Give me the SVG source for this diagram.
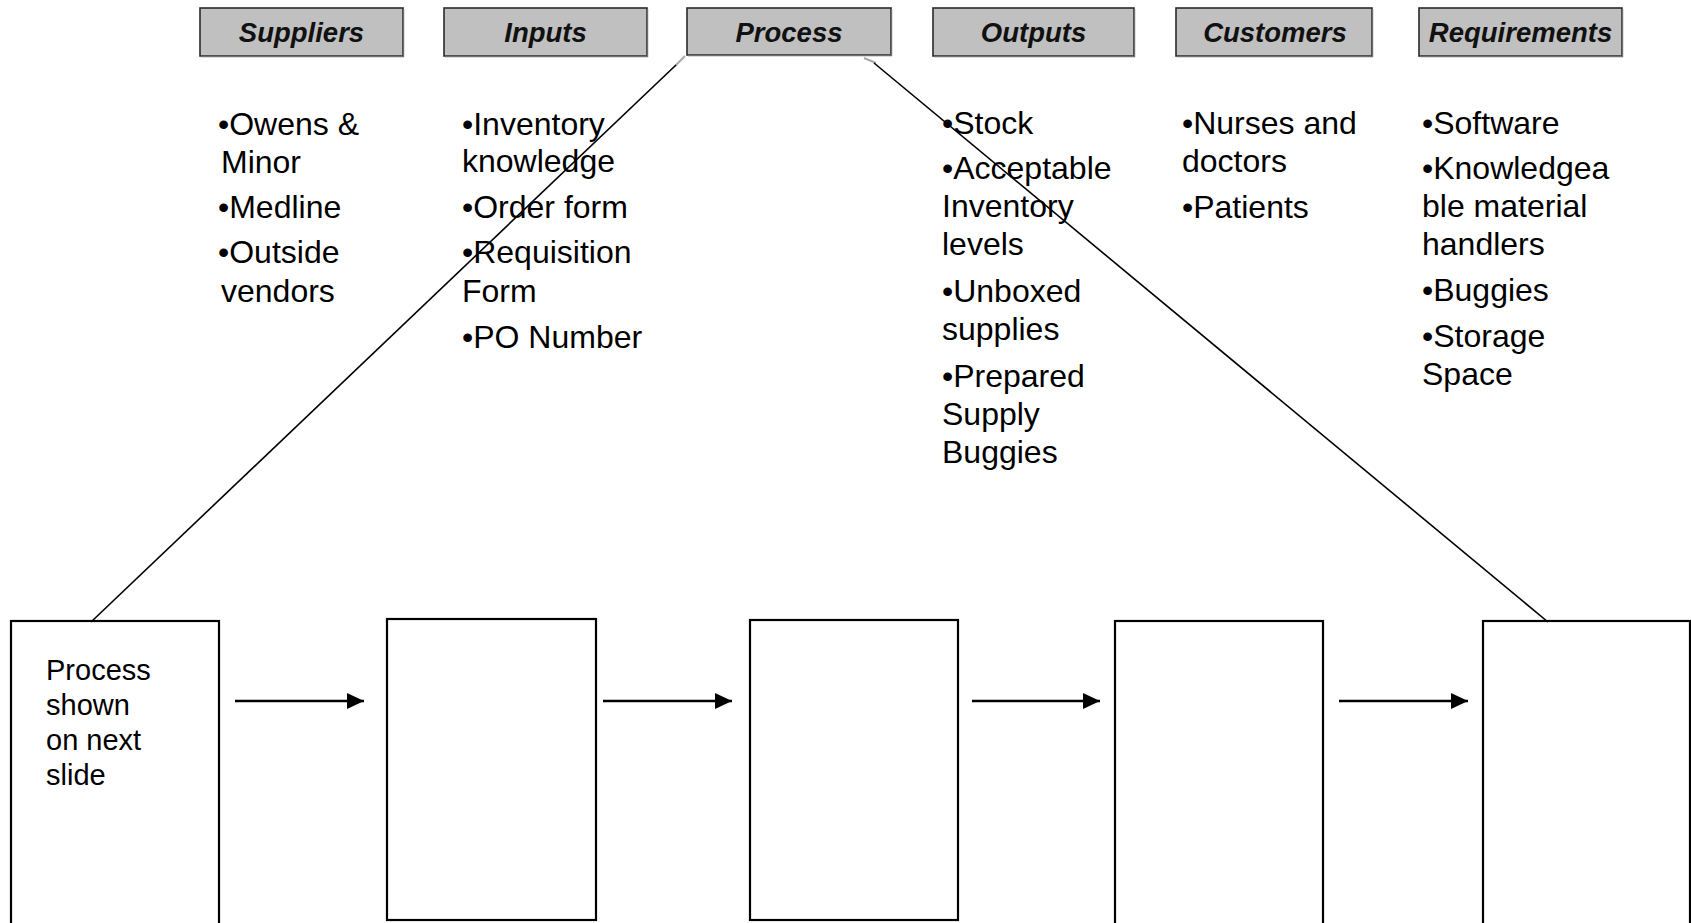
<svg xmlns="http://www.w3.org/2000/svg" width="1691" height="923" viewBox="0 0 1691 923">
  <defs>
    <style>
      .hdr rect { fill: #c0c0c0; stroke: #2a2a2a; stroke-width: 1.6; }
      .hdr .shade { fill: none; stroke: #6e6e6e; stroke-width: 1.4; }
      .hdr text { font-family: "Liberation Sans", Arial, sans-serif; font-size: 27.5px; font-weight: bold; font-style: italic; fill: #111; text-anchor: middle; }
      .list text { font-family: "Liberation Sans", Arial, sans-serif; font-size: 32px; fill: #000; }
      .step rect { fill: #fff; stroke: #000; stroke-width: 2.2; }
      .step text { font-family: "Liberation Sans", Arial, sans-serif; font-size: 29px; fill: #000; }
      .flow line { stroke: #000; stroke-width: 2.4; }
      .zoom line { stroke: #000; stroke-width: 1.6; }
      .zoom .fade { stroke: #a8a8a8; stroke-width: 2; }
    </style>
    <marker id="arrowhead" markerUnits="userSpaceOnUse" markerWidth="17" markerHeight="16" refX="17" refY="8" orient="auto">
      <path d="M0,0 L17,8 L0,16 Z" fill="#000"/>
    </marker>
  </defs>

  <rect x="0" y="0" width="1691" height="923" fill="#fff"/>

  <!-- SIPOC header tabs -->
  <g id="hdr-suppliers" class="hdr">
    <rect x="200" y="8" width="203" height="48"/>
    <polyline class="shade" points="201,56.5 403.5,56.5 403.5,9"/>
    <text x="301.5" y="42">Suppliers</text>
  </g>
  <g id="hdr-inputs" class="hdr">
    <rect x="444" y="8" width="203" height="48"/>
    <polyline class="shade" points="445,56.5 647.5,56.5 647.5,9"/>
    <text x="545.5" y="42">Inputs</text>
  </g>
  <g id="hdr-process" class="hdr">
    <rect x="687" y="8" width="204" height="47"/>
    <polyline class="shade" points="688,55.5 891.5,55.5 891.5,9"/>
    <text x="789" y="42">Process</text>
  </g>
  <g id="hdr-outputs" class="hdr">
    <rect x="933" y="8" width="201" height="48"/>
    <polyline class="shade" points="934,56.5 1134.5,56.5 1134.5,9"/>
    <text x="1033.5" y="42">Outputs</text>
  </g>
  <g id="hdr-customers" class="hdr">
    <rect x="1176" y="8" width="196" height="48"/>
    <polyline class="shade" points="1177,56.5 1372.5,56.5 1372.5,9"/>
    <text x="1275" y="42">Customers</text>
  </g>
  <g id="hdr-requirements" class="hdr">
    <rect x="1419" y="8" width="203" height="48"/>
    <polyline class="shade" points="1420,56.5 1622.5,56.5 1622.5,9"/>
    <text x="1520.5" y="42">Requirements</text>
  </g>

  <!-- Column contents -->
  <g id="list-suppliers" class="list">
    <text x="218" y="135">•Owens &amp;</text>
    <text x="221" y="173">Minor</text>
    <text x="218" y="218">•Medline</text>
    <text x="218" y="263">•Outside</text>
    <text x="221" y="302">vendors</text>
  </g>
  <g id="list-inputs" class="list">
    <text x="462" y="135">•Inventory</text>
    <text x="462" y="172">knowledge</text>
    <text x="462" y="218">•Order form</text>
    <text x="462" y="263">•Requisition</text>
    <text x="462" y="302">Form</text>
    <text x="462" y="348">•PO Number</text>
  </g>
  <g id="list-outputs" class="list">
    <text x="942" y="134">•Stock</text>
    <text x="942" y="179">•Acceptable</text>
    <text x="942" y="217">Inventory</text>
    <text x="942" y="255">levels</text>
    <text x="942" y="302">•Unboxed</text>
    <text x="942" y="340">supplies</text>
    <text x="942" y="387">•Prepared</text>
    <text x="942" y="425">Supply</text>
    <text x="942" y="463">Buggies</text>
  </g>
  <g id="list-customers" class="list">
    <text x="1182" y="134">•Nurses and</text>
    <text x="1182" y="172">doctors</text>
    <text x="1182" y="218">•Patients</text>
  </g>
  <g id="list-requirements" class="list">
    <text x="1422" y="134">•Software</text>
    <text x="1422" y="179">•Knowledgea</text>
    <text x="1422" y="217">ble material</text>
    <text x="1422" y="255">handlers</text>
    <text x="1422" y="301">•Buggies</text>
    <text x="1422" y="347">•Storage</text>
    <text x="1422" y="385">Space</text>
  </g>

  <!-- Process steps -->
  <g id="step-1" class="step">
    <rect x="11" y="621" width="208" height="320"/>
    <text x="46" y="680">Process</text>
    <text x="46" y="715">shown</text>
    <text x="46" y="750">on next</text>
    <text x="46" y="785">slide</text>
  </g>
  <g id="step-2" class="step">
    <rect x="387" y="619" width="209" height="301"/>
  </g>
  <g id="step-3" class="step">
    <rect x="750" y="620" width="208" height="300"/>
  </g>
  <g id="step-4" class="step">
    <rect x="1115" y="621" width="208" height="320"/>
  </g>
  <g id="step-5" class="step">
    <rect x="1483" y="621" width="207" height="320"/>
  </g>

  <!-- Connectors -->
  <g id="connectors">
    <g class="zoom">
      <line class="fade" x1="685" y1="56" x2="675" y2="66"/>
      <line x1="676" y1="65" x2="91" y2="622"/>
      <line class="fade" x1="864" y1="58" x2="876" y2="63"/>
      <line x1="874" y1="63" x2="1548" y2="622"/>
    </g>
    <g class="flow">
      <line x1="235" y1="701" x2="364" y2="701" marker-end="url(#arrowhead)"/>
      <line x1="603" y1="701" x2="732" y2="701" marker-end="url(#arrowhead)"/>
      <line x1="972" y1="701" x2="1100" y2="701" marker-end="url(#arrowhead)"/>
      <line x1="1339" y1="701" x2="1468" y2="701" marker-end="url(#arrowhead)"/>
    </g>
  </g>
</svg>
